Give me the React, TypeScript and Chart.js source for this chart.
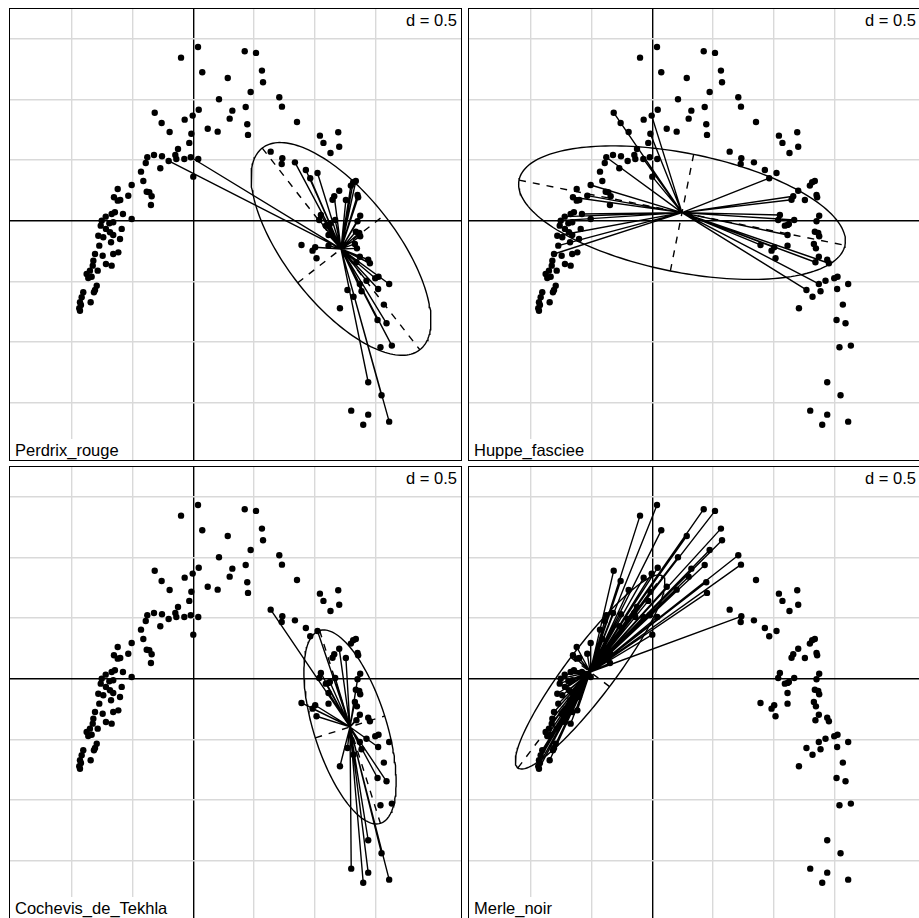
import React, { useEffect, useRef } from "react";
import { Chart, registerables } from "chart.js";

Chart.register(...registerables);

// Site scores (row coordinates)
const siteX = [
  -0.101, 0.039, 0.074, 0.424, 0.517, 0.566, 0.575, 0.284, 0.473, 0.212,
  0.709, 0.731, 0.855, -0.318, -0.261, -0.195, -0.071, -0.005, 0.045, 0.322,
  0.300, 0.432, 0.445, 0.451, 0.119, 0.201, -0.016, -0.033, -0.126, -0.379,
  -0.324, -0.258, -0.203, -0.148, -0.140, -0.074, -0.021, 0.041, -0.272, -0.392,
  -0.431, -0.412, -0.508, -0.384, -0.363, -0.343, -0.349, -0.536, -0.623, -0.654,
  -0.623, -0.602, 0.000, -0.508, -0.580, 0.638, 0.734, 0.729, 0.838, -0.722,
  -0.673, -0.646, -0.660, -0.755, -0.763, -0.692, -0.590, -0.687, -0.720, -0.783,
  -0.742, -0.660, -0.678, -0.604, -0.775, -0.618, -0.660, -0.810, -0.747, -0.824,
  -0.829, -0.720, -0.673, -0.788, -0.852, -0.879, -0.866, -0.838, -0.796, -0.810,
  -0.819, -0.907, -0.920, -0.934, -0.926, -0.940, -0.846, -0.934, 1.044, 1.073,
  1.131, 1.195, 1.203, 0.928, 0.964, 1.024, 1.299, 1.318, 1.340, 1.203,
  1.162, 1.148, 1.258, 1.354, 1.359, 1.052, 1.038, 1.170, 1.093, 1.115,
  1.126, 1.376, 1.354, 1.340, 1.368, 1.376, 1.115, 0.892, 1.005, 0.983,
  1.115, 1.332, 1.349, 1.016, 1.373, 1.442, 1.345, 1.456, 1.271, 1.373,
  1.428, 1.500, 1.527, 1.387, 1.321, 1.524, 1.615, 1.209, 1.571, 1.519,
  1.593, 1.543, 1.637, 1.442, 1.552, 1.302, 1.442, 1.401, 1.615,
];
const siteY = [
  1.344, 1.432, 1.223, 1.397, 1.383, 1.237, 1.141, 1.176, 1.061, 1.001,
  1.017, 0.940, 0.814, 0.890, 0.805, 0.731, 0.833, 0.866, 0.915, 0.907,
  0.841, 0.937, 0.795, 0.707, 0.758, 0.734, 0.717, 0.641, 0.591, 0.523,
  0.542, 0.531, 0.492, 0.542, 0.509, 0.509, 0.523, 0.509, 0.432, 0.476,
  0.404, 0.327, 0.294, 0.239, 0.234, 0.201, 0.129, 0.206, 0.261, 0.193,
  0.165, 0.171, 0.363, 0.014, 0.055, 0.569, 0.514, 0.467, 0.481, 0.033,
  0.055, 0.069, -0.013, 0.000, -0.041, -0.021, -0.068, -0.096, -0.068, -0.124,
  -0.137, -0.118, -0.178, -0.151, -0.206, -0.261, -0.275, -0.275, -0.289, -0.330,
  -0.371, -0.357, -0.371, -0.412, -0.412, -0.439, -0.472, -0.462, -0.536, -0.571,
  -0.590, -0.590, -0.631, -0.673, -0.695, -0.722, -0.673, -0.742, 0.701, 0.641,
  0.558, 0.729, 0.610, 0.418, 0.350, 0.393, 0.289, 0.317, 0.327, 0.247,
  0.201, 0.173, 0.171, 0.212, 0.193, 0.047, 0.006, 0.006, -0.041, -0.035,
  -0.027, 0.041, -0.005, -0.091, -0.101, -0.129, -0.118, -0.200, -0.219, -0.247,
  -0.206, -0.192, -0.228, -0.310, -0.297, -0.322, -0.343, -0.351, -0.571, -0.522,
  -0.495, -0.475, -0.462, -0.582, -0.627, -0.563, -0.522, -0.722, -0.692, -0.819,
  -0.846, -1.044, -1.030, -1.332, -1.439, -1.566, -1.599, -1.682, -1.657,
];

// Species and the sites where each one is present
const speciesNames = ["Perdrix_rouge", "Huppe_fasciee", "Cochevis_de_Tekhla", "Merle_noir"];
const perdrixSites = [32, 36, 58, 103, 104, 105, 106, 107, 108, 110, 112, 113, 114, 115, 116, 117, 118, 119, 120, 121, 122, 123, 124, 125, 126, 128, 130, 131, 132, 134, 135, 136, 137, 139, 140, 141, 143, 145, 146, 149, 150, 152, 153, 154, 158];
const huppeSites = [13, 17, 26, 29, 35, 42, 47, 49, 52, 54, 59, 63, 69, 74, 77, 104, 110, 111, 115, 117, 126, 127, 128, 136, 137, 138, 139];
const cochevisSites = [55, 105, 109, 112, 115, 117, 118, 120, 122, 123, 126, 127, 128, 129, 131, 133, 134, 136, 138, 139, 140, 143, 144, 145, 147, 149, 150, 153, 154, 155, 156, 157, 158];
const merleSites = [0, 1, 2, 3, 4, 5, 6, 7, 8, 9, 10, 11, 13, 14, 15, 16, 17, 18, 19, 20, 21, 22, 23, 24, 25, 26, 27, 28, 29, 30, 31, 32, 33, 34, 35, 36, 37, 38, 39, 40, 41, 42, 43, 44, 45, 46, 47, 48, 49, 50, 51, 52, 53, 54, 56, 59, 60, 61, 62, 63, 64, 65, 66, 67, 68, 69, 70, 71, 72, 73, 74, 75, 76, 77, 78, 79, 80, 81, 82, 83, 84, 85, 86, 87, 88, 89, 90, 91, 92, 93, 94, 95, 96, 97];

// Weighted centroid and 1.5-sd ellipse of each species
const centroidX = [1.218, 0.245, 1.292, -0.512];
const centroidY = [-0.233, 0.066, -0.398, 0.055];
const ellipseMajor = [1.055, 1.37, 0.833, 0.99];
const ellipseMinor = [0.453, 0.49, 0.3, 0.2];
const ellipseAngleDeg = [-52, -11.3, -72.5, 53];

const xLimits = [-1.511, 2.207];
const yLimits = [-1.973, 1.745];
const gridStep = 0.5;
const scaleLabel = "d = 0.5";

const memberSets = [perdrixSites, huppeSites, cochevisSites, merleSites];

const FONT = '"Liberation Sans", Arial, Helvetica, sans-serif';
const INNER = 451;
const LW = 1.4;

function Panel({ k, left, top }: { k: number; left: number; top: number }) {
  const ref = useRef<HTMLCanvasElement>(null);
  useEffect(() => {
    if (!ref.current) return;
    const members = memberSets[k];
    const cx = centroidX[k];
    const cy = centroidY[k];
    const star: any[] = [];
    members.forEach((i) => {
      star.push({ x: cx, y: cy }, { x: siteX[i], y: siteY[i] }, { x: siteX[i], y: null });
    });
    const th = (ellipseAngleDeg[k] * Math.PI) / 180;
    const a = ellipseMajor[k];
    const b = ellipseMinor[k];
    const ell: any[] = [];
    for (let d = 0; d <= 360; d += 2) {
      const t = (d * Math.PI) / 180;
      ell.push({
        x: cx + a * Math.cos(th) * Math.cos(t) - b * Math.sin(th) * Math.sin(t),
        y: cy + a * Math.sin(th) * Math.cos(t) + b * Math.cos(th) * Math.sin(t),
      });
    }
    const axes = [
      { x: cx - a * Math.cos(th), y: cy - a * Math.sin(th) },
      { x: cx + a * Math.cos(th), y: cy + a * Math.sin(th) },
      { x: cx, y: null },
      { x: cx + b * Math.sin(th), y: cy - b * Math.cos(th) },
      { x: cx - b * Math.sin(th), y: cy + b * Math.cos(th) },
    ];
    const pts = siteX.map((x, i) => ({ x, y: siteY[i] }));

    const isZero = (ctx: any) => ctx.tick && Math.abs(ctx.tick.value) < 1e-9;
    const gridColor = (ctx: any) => {
      const v = ctx.tick ? ctx.tick.value : NaN;
      if (Math.abs(v) < 1e-9) return "#000000";
      const r = v / gridStep;
      if (Math.abs(r - Math.round(r)) > 1e-6) return "rgba(0,0,0,0)";
      return "#d9d9d9";
    };
    const axisOpts = (lim: number[]) => ({
      type: "linear" as const,
      min: lim[0],
      max: lim[1],
      ticks: { display: false, stepSize: gridStep },
      grid: { color: gridColor, lineWidth: (ctx: any) => (isZero(ctx) ? LW : 1.4), drawTicks: false },
      border: { display: false },
    });

    const chart = new Chart(ref.current, {
      type: "scatter",
      data: {
        datasets: [
          {
            data: pts,
            pointRadius: 3.2,
            pointBackgroundColor: "#000",
            pointBorderWidth: 0,
            showLine: false,
          },
          {
            data: star,
            showLine: true,
            spanGaps: false,
            borderColor: "#000",
            borderWidth: LW,
            pointRadius: 0,
          },
          {
            data: ell,
            showLine: true,
            borderColor: "#000",
            borderWidth: LW,
            pointRadius: 0,
          },
          {
            data: axes,
            showLine: true,
            spanGaps: false,
            borderColor: "#000",
            borderWidth: LW,
            borderDash: [7, 7],
            pointRadius: 0,
          },
        ] as any,
      },
      options: {
        animation: false,
        responsive: false,
        maintainAspectRatio: false,
        events: [],
        layout: { padding: 0, autoPadding: false } as any,
        elements: { line: { tension: 0 } },
        plugins: { legend: { display: false }, tooltip: { enabled: false } },
        scales: { x: axisOpts(xLimits), y: axisOpts(yLimits) } as any,
      },
    });
    return () => chart.destroy();
  }, [k]);

  const labelStyle: React.CSSProperties = {
    position: "absolute",
    background: "#fff",
    font: `16.5px ${FONT}`,
    lineHeight: "19px",
    color: "#000",
    whiteSpace: "nowrap",
  };

  return (
    <div
      style={{
        position: "absolute",
        left,
        top,
        width: INNER,
        height: INNER,
        border: "1px solid #000",
        overflow: "hidden",
        background: "#fff",
      }}
    >
      <canvas ref={ref} width={INNER} height={INNER} style={{ display: "block", width: INNER, height: INNER }} />
      <div style={{ ...labelStyle, right: 0, top: 0, padding: "2px 4px 1px 6px" }}>{scaleLabel}</div>
      <div style={{ ...labelStyle, left: 0, bottom: 0, padding: "2px 6px 0px 5px" }}>{speciesNames[k]}</div>
    </div>
  );
}

export default function App() {
  return (
    <div style={{ position: "absolute", left: 0, top: 0, width: 919, height: 918, background: "#fff", overflow: "hidden" }}>
      <Panel k={0} left={9} top={8} />
      <Panel k={1} left={468} top={8} />
      <Panel k={2} left={9} top={466} />
      <Panel k={3} left={468} top={466} />
    </div>
  );
}
